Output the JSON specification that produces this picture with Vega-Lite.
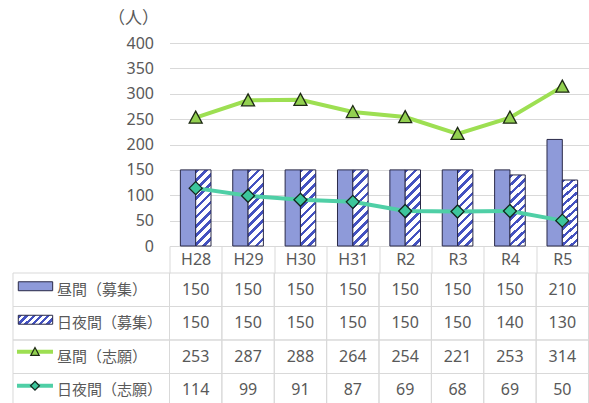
{
  "$schema": "https://vega.github.io/schema/vega-lite/v6.json",
  "autosize": {"type": "none"},
  "padding": {"left": 169.5, "top": 43, "right": 0.5, "bottom": 0},
  "width": 419,
  "height": 360,
  "background": "#ffffff",
  "config": {
    "view": {"stroke": null},
    "font": "Noto Sans, Noto Sans CJK JP",
    "axis": {"labelFont": "Noto Sans, Noto Sans CJK JP", "titleFont": "Noto Sans CJK JP, Noto Sans"}
  },
  "data": {
    "values": [
      {"cat": "H28", "s": "昼間（募集）", "v": 150},
      {"cat": "H29", "s": "昼間（募集）", "v": 150},
      {"cat": "H30", "s": "昼間（募集）", "v": 150},
      {"cat": "H31", "s": "昼間（募集）", "v": 150},
      {"cat": "R2", "s": "昼間（募集）", "v": 150},
      {"cat": "R3", "s": "昼間（募集）", "v": 150},
      {"cat": "R4", "s": "昼間（募集）", "v": 150},
      {"cat": "R5", "s": "昼間（募集）", "v": 210},
      {"cat": "H28", "s": "日夜間（募集）", "v": 150},
      {"cat": "H29", "s": "日夜間（募集）", "v": 150},
      {"cat": "H30", "s": "日夜間（募集）", "v": 150},
      {"cat": "H31", "s": "日夜間（募集）", "v": 150},
      {"cat": "R2", "s": "日夜間（募集）", "v": 150},
      {"cat": "R3", "s": "日夜間（募集）", "v": 150},
      {"cat": "R4", "s": "日夜間（募集）", "v": 140},
      {"cat": "R5", "s": "日夜間（募集）", "v": 130},
      {"cat": "H28", "s": "昼間（志願）", "v": 253},
      {"cat": "H29", "s": "昼間（志願）", "v": 287},
      {"cat": "H30", "s": "昼間（志願）", "v": 288},
      {"cat": "H31", "s": "昼間（志願）", "v": 264},
      {"cat": "R2", "s": "昼間（志願）", "v": 254},
      {"cat": "R3", "s": "昼間（志願）", "v": 221},
      {"cat": "R4", "s": "昼間（志願）", "v": 253},
      {"cat": "R5", "s": "昼間（志願）", "v": 314},
      {"cat": "H28", "s": "日夜間（志願）", "v": 114},
      {"cat": "H29", "s": "日夜間（志願）", "v": 99},
      {"cat": "H30", "s": "日夜間（志願）", "v": 91},
      {"cat": "H31", "s": "日夜間（志願）", "v": 87},
      {"cat": "R2", "s": "日夜間（志願）", "v": 69},
      {"cat": "R3", "s": "日夜間（志願）", "v": 68},
      {"cat": "R4", "s": "日夜間（志願）", "v": 69},
      {"cat": "R5", "s": "日夜間（志願）", "v": 50}
    ]
  },
  "layer": [
    {
      "encoding": {
        "x": {
          "field": "cat", "type": "nominal", "sort": null,
          "scale": {"paddingInner": 0, "paddingOuter": 0},
          "axis": {
            "orient": "bottom", "offset": -157, "title": null, "labelAngle": 0,
            "domainColor": "#d9d9d9", "tickColor": "#d9d9d9", "tickSize": 27, "tickBand": "extent",
            "labelPadding": -22, "labelFontSize": 16, "labelColor": "#595959", "grid": false
          }
        },
        "y": {
          "field": "v", "type": "quantitative",
          "scale": {"domain": [0, 400], "range": [203, 0], "nice": false},
          "axis": {
            "values": [0, 50, 100, 150, 200, 250, 300, 350, 400],
            "grid": true, "gridColor": "#d9d9d9", "domain": false, "ticks": false,
            "labelPadding": 16, "labelFontSize": 16, "labelColor": "#595959",
            "title": "（人）", "titleAngle": 0, "titleAlign": "right", "titleBaseline": "middle",
            "titleX": -11, "titleY": -25, "titleFontSize": 17, "titleFontWeight": "normal", "titleColor": "#595959"
          }
        }
      },
      "layer": [
        {
          "transform": [{"filter": "datum.s === '昼間（募集）'"}],
          "mark": {"type": "bar", "fill": "#8e9ad9", "stroke": "#2a2a48", "strokeWidth": 1},
          "encoding": {
            "xOffset": {"field": "s", "type": "nominal", "scale": {"domain": ["昼間（募集）", "日夜間（募集）"], "paddingInner": 0, "paddingOuter": 0.71}}
          }
        },
        {
          "transform": [{"filter": "datum.s === '日夜間（募集）'"}],
          "mark": {
            "type": "bar", "stroke": "#2a2a48", "strokeWidth": 1,
            "fill": {
              "gradient": "linear", "x1": 0, "y1": 0, "x2": 0.2323, "y2": 1.1545,
              "stops": [
                {"offset": 0, "color": "#4452c0"}, {"offset": 0.04, "color": "#4452c0"}, {"offset": 0.04, "color": "#ffffff"}, {"offset": 0.1, "color": "#ffffff"},
                {"offset": 0.1, "color": "#4452c0"}, {"offset": 0.14, "color": "#4452c0"}, {"offset": 0.14, "color": "#ffffff"}, {"offset": 0.2, "color": "#ffffff"},
                {"offset": 0.2, "color": "#4452c0"}, {"offset": 0.24, "color": "#4452c0"}, {"offset": 0.24, "color": "#ffffff"}, {"offset": 0.3, "color": "#ffffff"},
                {"offset": 0.3, "color": "#4452c0"}, {"offset": 0.34, "color": "#4452c0"}, {"offset": 0.34, "color": "#ffffff"}, {"offset": 0.4, "color": "#ffffff"},
                {"offset": 0.4, "color": "#4452c0"}, {"offset": 0.44, "color": "#4452c0"}, {"offset": 0.44, "color": "#ffffff"}, {"offset": 0.5, "color": "#ffffff"},
                {"offset": 0.5, "color": "#4452c0"}, {"offset": 0.54, "color": "#4452c0"}, {"offset": 0.54, "color": "#ffffff"}, {"offset": 0.6, "color": "#ffffff"},
                {"offset": 0.6, "color": "#4452c0"}, {"offset": 0.64, "color": "#4452c0"}, {"offset": 0.64, "color": "#ffffff"}, {"offset": 0.7, "color": "#ffffff"},
                {"offset": 0.7, "color": "#4452c0"}, {"offset": 0.74, "color": "#4452c0"}, {"offset": 0.74, "color": "#ffffff"}, {"offset": 0.8, "color": "#ffffff"},
                {"offset": 0.8, "color": "#4452c0"}, {"offset": 0.84, "color": "#4452c0"}, {"offset": 0.84, "color": "#ffffff"}, {"offset": 0.9, "color": "#ffffff"},
                {"offset": 0.9, "color": "#4452c0"}, {"offset": 0.94, "color": "#4452c0"}, {"offset": 0.94, "color": "#ffffff"}, {"offset": 1, "color": "#ffffff"}
              ]
            }
          },
          "encoding": {
            "xOffset": {"field": "s", "type": "nominal", "scale": {"domain": ["昼間（募集）", "日夜間（募集）"], "paddingInner": 0, "paddingOuter": 0.71}}
          }
        },
        {
          "transform": [{"filter": "datum.s === '昼間（志願）'"}],
          "mark": {"type": "line", "stroke": "#9ddf52", "strokeWidth": 4}
        },
        {
          "transform": [{"filter": "datum.s === '日夜間（志願）'"}],
          "mark": {"type": "line", "stroke": "#4fcfa6", "strokeWidth": 4}
        },
        {
          "transform": [{"filter": "datum.s === '昼間（志願）'"}],
          "mark": {"type": "point", "shape": "M0,-1L1,0.85L-1,0.85Z", "size": 169, "filled": true, "fill": "#92d050", "stroke": "#1e2a14", "strokeWidth": 1.3, "opacity": 1}
        },
        {
          "transform": [{"filter": "datum.s === '日夜間（志願）'"}],
          "mark": {"type": "point", "shape": "M0,-1L1,0L0,1L-1,0Z", "size": 169, "filled": true, "fill": "#3cc69b", "stroke": "#14261e", "strokeWidth": 1.3, "opacity": 1}
        }
      ]
    },
    {
      "encoding": {
        "x": {"field": "cat", "type": "nominal", "sort": null},
        "y": {
          "field": "s", "type": "nominal",
          "scale": {"domain": ["昼間（募集）", "日夜間（募集）", "昼間（志願）", "日夜間（志願）"], "range": [230, 364], "paddingInner": 0, "paddingOuter": 0},
          "axis": null
        }
      },
      "layer": [
        {
          "mark": {"type": "rect", "fill": "#ffffff", "fillOpacity": 0, "stroke": "#d9d9d9", "strokeWidth": 1}
        },
        {
          "transform": [{"filter": "datum.cat === 'H28'"}],
          "mark": {"type": "rect", "width": 156.5, "xOffset": -104.45, "fill": "#ffffff", "fillOpacity": 0, "stroke": "#d9d9d9", "strokeWidth": 1}
        },
        {
          "mark": {"type": "text", "fontSize": 16, "color": "#595959", "align": "center", "baseline": "middle"},
          "encoding": {"text": {"field": "v", "type": "quantitative"}}
        },
        {
          "transform": [{"filter": "datum.cat === 'H28'"}],
          "mark": {"type": "text", "fontSize": 15, "font": "Noto Sans CJK JP", "color": "#595959", "align": "left", "baseline": "middle", "xOffset": -138.7},
          "encoding": {"text": {"field": "s", "type": "nominal"}}
        },
        {
          "transform": [{"filter": "datum.cat === 'H28' && datum.s === '昼間（募集）'"}],
          "mark": {"type": "point", "shape": "M-1,-0.26H1V0.26H-1Z", "size": 1183, "filled": true, "fill": "#8e9ad9", "stroke": "#2a2a48", "strokeWidth": 1, "opacity": 1, "xOffset": -160.2, "yOffset": -3.5}
        },
        {
          "transform": [{"filter": "datum.cat === 'H28' && datum.s === '日夜間（募集）'"}],
          "mark": {
            "type": "point", "shape": "M-1,-0.26H1V0.26H-1Z", "size": 1183, "filled": true, "stroke": "#2a2a48", "strokeWidth": 1, "opacity": 1, "xOffset": -160.2, "yOffset": -3.5,
            "fill": {
              "gradient": "linear", "x1": 0, "y1": 0, "x2": 1.181, "y2": 0.309,
              "stops": [
                {"offset": 0, "color": "#4452c0"}, {"offset": 0.08, "color": "#4452c0"}, {"offset": 0.08, "color": "#ffffff"}, {"offset": 0.1667, "color": "#ffffff"},
                {"offset": 0.1667, "color": "#4452c0"}, {"offset": 0.2467, "color": "#4452c0"}, {"offset": 0.2467, "color": "#ffffff"}, {"offset": 0.3333, "color": "#ffffff"},
                {"offset": 0.3333, "color": "#4452c0"}, {"offset": 0.4133, "color": "#4452c0"}, {"offset": 0.4133, "color": "#ffffff"}, {"offset": 0.5, "color": "#ffffff"},
                {"offset": 0.5, "color": "#4452c0"}, {"offset": 0.58, "color": "#4452c0"}, {"offset": 0.58, "color": "#ffffff"}, {"offset": 0.6667, "color": "#ffffff"},
                {"offset": 0.6667, "color": "#4452c0"}, {"offset": 0.7467, "color": "#4452c0"}, {"offset": 0.7467, "color": "#ffffff"}, {"offset": 0.8333, "color": "#ffffff"},
                {"offset": 0.8333, "color": "#4452c0"}, {"offset": 0.9133, "color": "#4452c0"}, {"offset": 0.9133, "color": "#ffffff"}, {"offset": 1, "color": "#ffffff"}
              ]
            }
          }
        },
        {
          "transform": [{"filter": "datum.cat === 'H28' && datum.s === '昼間（志願）'"}],
          "mark": {"type": "point", "shape": "M-1,0H1", "size": 1296, "filled": false, "stroke": "#9ddf52", "strokeWidth": 4, "opacity": 1, "xOffset": -160.7, "yOffset": -5}
        },
        {
          "transform": [{"filter": "datum.cat === 'H28' && datum.s === '昼間（志願）'"}],
          "mark": {"type": "point", "shape": "M0,-1L1,0.85L-1,0.85Z", "size": 72, "filled": true, "fill": "#92d050", "stroke": "#1e2a14", "strokeWidth": 1.2, "opacity": 1, "xOffset": -160.7, "yOffset": -5}
        },
        {
          "transform": [{"filter": "datum.cat === 'H28' && datum.s === '日夜間（志願）'"}],
          "mark": {"type": "point", "shape": "M-1,0H1", "size": 1296, "filled": false, "stroke": "#4fcfa6", "strokeWidth": 4, "opacity": 1, "xOffset": -160.7, "yOffset": -4.5}
        },
        {
          "transform": [{"filter": "datum.cat === 'H28' && datum.s === '日夜間（志願）'"}],
          "mark": {"type": "point", "shape": "M0,-1L1,0L0,1L-1,0Z", "size": 80, "filled": true, "fill": "#3cc69b", "stroke": "#14261e", "strokeWidth": 1.2, "opacity": 1, "xOffset": -160.7, "yOffset": -4.5}
        }
      ]
    }
  ],
  "resolve": {"scale": {"y": "independent"}, "axis": {"y": "independent"}}
}
